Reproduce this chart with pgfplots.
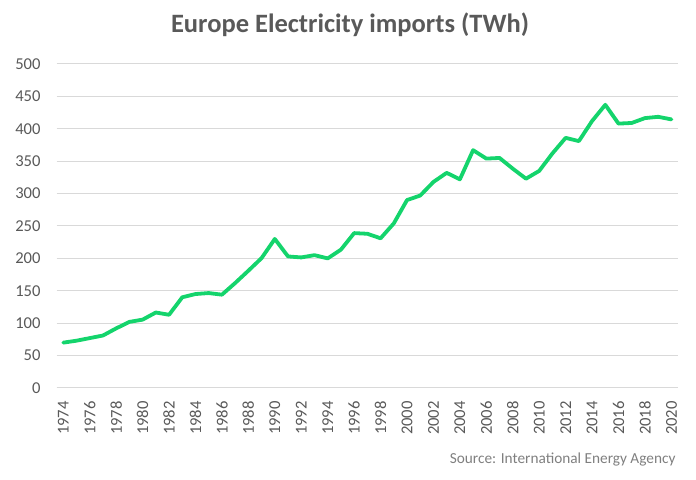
\documentclass[border=0pt]{standalone}
\usepackage{pgfplots}
\pgfplotsset{compat=1.18}
\usepackage{fontspec}
\setmainfont{Carlito}
\definecolor{linegreen}{HTML}{14D46C}
\definecolor{txtgray}{HTML}{595959}
\definecolor{gridgray}{HTML}{D9D9D9}
\definecolor{srcgray}{HTML}{7F7F7F}

\pgfplotstableread{
year value
1974 70
1975 73
1976 77
1977 81
1978 92
1979 102
1980 105.5
1981 116.5
1982 113
1983 140
1984 145
1985 146.5
1986 144
1987 162
1988 181
1989 200.5
1990 230
1991 203
1992 201.5
1993 205
1994 200
1995 213.5
1996 239
1997 238
1998 231
1999 254
2000 290
2001 297
2002 318
2003 332
2004 322
2005 367
2006 354
2007 355
2008 338.5
2009 323
2010 335
2011 362
2012 386
2013 381
2014 412
2015 437
2016 408
2017 409
2018 416.5
2019 418.5
2020 414.5
}\imports

\begin{document}
\begin{tikzpicture}[x=1bp,y=1bp]
\useasboundingbox (0,0) rectangle (696,480);
\node[font=\fontsize{26.5bp}{30bp}\selectfont\bfseries, text=txtgray] at (350,455) {Europe Electricity imports (TWh)};
\node[font=\fontsize{15.3bp}{18bp}\selectfont, text=srcgray, anchor=east] at (679,20) {Source: International Energy Agency};
\begin{axis}[
  at={(56.7bp,92bp)}, anchor=south west,
  scale only axis, width=621.3bp, height=324bp,
  xmin=1973.5, xmax=2020.5,
  ymin=0, ymax=500,
  xtick={1974,1976,...,2020},
  ytick={0,50,...,500},
  xticklabel style={rotate=90, anchor=east, inner sep=0pt,
    /pgf/number format/1000 sep={}},
  xticklabel shift=13bp,
  yticklabel style={anchor=east, inner sep=0pt},
  yticklabel shift=16bp,
  /pgf/number format/assume math mode=true,
  tick label style={font=\fontsize{16.6bp}{19bp}\selectfont, text=txtgray},
  major tick length=0pt,
  ymajorgrids, grid style={gridgray, line width=1bp},
  axis x line*=bottom, axis y line*=left,
  x axis line style={gridgray, line width=1bp, -},
  y axis line style={draw=none},
  clip=false,
]
\addplot[linegreen, line width=3.8bp, line join=round, line cap=round] table[x=year, y=value] {\imports};
\end{axis}
\end{tikzpicture}
\end{document}
